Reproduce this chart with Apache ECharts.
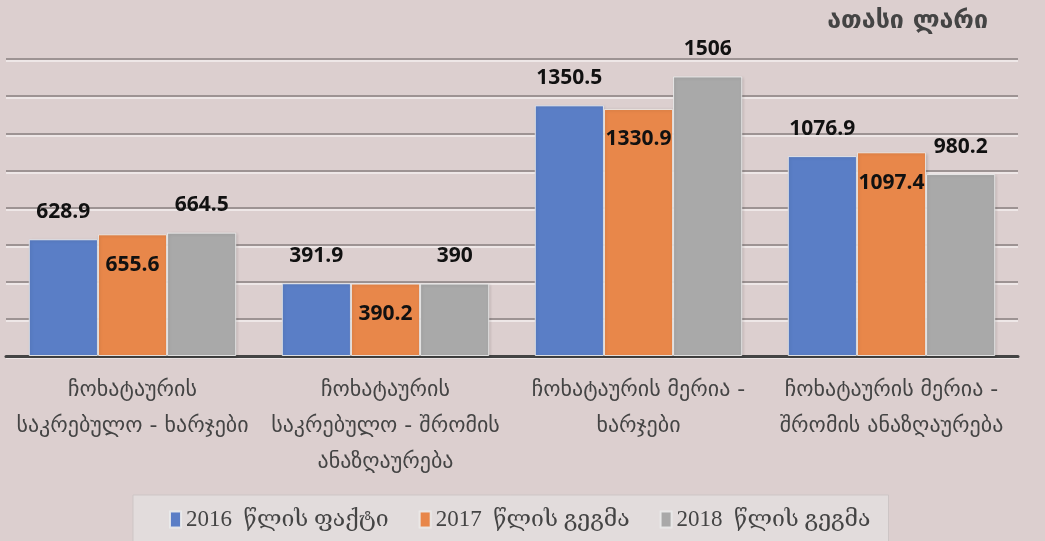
<!DOCTYPE html>
<html><head><meta charset="utf-8">
<script src="https://cdn.jsdelivr.net/npm/echarts@6/dist/echarts.min.js"></script>
<style>html,body{margin:0;padding:0;background:#dccfcf;}#c{width:1045px;height:541px;}</style>
</head><body><div id="c"></div>
<script>
const categories = [
  'ჩოხატაურის\nსაკრებულო - ხარჯები',
  'ჩოხატაურის\nსაკრებულო - შრომის\nანაზღაურება',
  'ჩოხატაურის მერია -\nხარჯები',
  'ჩოხატაურის მერია -\nშრომის ანაზღაურება'
];
const seriesNames = ['2016  წლის ფაქტი', '2017  წლის გეგმა', '2018  წლის გეგმა'];
const values2016 = [628.9, 391.9, 1350.5, 1076.9];
const values2017 = [655.6, 390.2, 1330.9, 1097.4];
const values2018 = [664.5, 390, 1506, 980.2];
const unitLabel = 'ათასი ლარი';

const colors = ['#5a7ec6', '#e8874a', '#a9a9a9'];
const labelFont = {color: '#111', fontSize: 21, fontWeight: 'bold', fontFamily: 'Open Sans, DejaVu Sans, sans-serif'};
function mk(name, data, color, pos, dist) {
  return {
    name, type: 'bar', data, barGap: '0%', barCategoryGap: '18%',
    itemStyle: {color, borderColor: 'rgba(235,235,235,0.9)', borderWidth: 1,
      shadowColor: 'rgba(0,0,0,0.15)', shadowBlur: 3, shadowOffsetX: 1, shadowOffsetY: 1},
    label: Object.assign({show: true, position: pos, distance: dist}, labelFont)
  };
}
const chart = echarts.init(document.getElementById('c'));
chart.setOption({
  backgroundColor: '#dccfcf',
  animation: false,
  color: colors,
  title: {text: unitLabel, right: 52, top: 4,
    textStyle: {fontSize: 25, fontWeight: 'bold', color: '#444', fontFamily: 'DejaVu Sans, sans-serif'}},
  grid: {left: 6, right: 27, top: 59, bottom: 185},
  xAxis: {type: 'category', data: categories,
    axisLine: {lineStyle: {color: '#444', width: 3}}, axisTick: {show: false},
    axisLabel: {interval: 0, color: '#444', fontSize: 22, lineHeight: 36, margin: 16,
      fontFamily: 'DejaVu Sans, sans-serif'}},
  yAxis: {type: 'value', min: 0, max: 1600, interval: 200,
    axisLabel: {show: false}, axisLine: {show: false}, axisTick: {show: false},
    splitLine: {lineStyle: {color: '#9d9393', width: 2, shadowColor: 'rgba(255,255,255,0.5)', shadowOffsetY: 2}}},
  legend: {bottom: -6, left: 133, itemWidth: 11, itemHeight: 16, itemGap: 30, icon: 'rect',
    padding: [13, 18, 16, 36],
    backgroundColor: '#e2dcdc', borderColor: '#cdc5c5', borderWidth: 1,
    textStyle: {color: '#444', fontSize: 23, fontFamily: 'Liberation Serif, DejaVu Serif, serif'}},
  series: [
    mk(seriesNames[0], values2016, colors[0], 'top', 17),
    mk(seriesNames[1], values2017, colors[1], 'insideTop', 20),
    mk(seriesNames[2], values2018, colors[2], 'top', 17)
  ]
});
</script></body></html>
